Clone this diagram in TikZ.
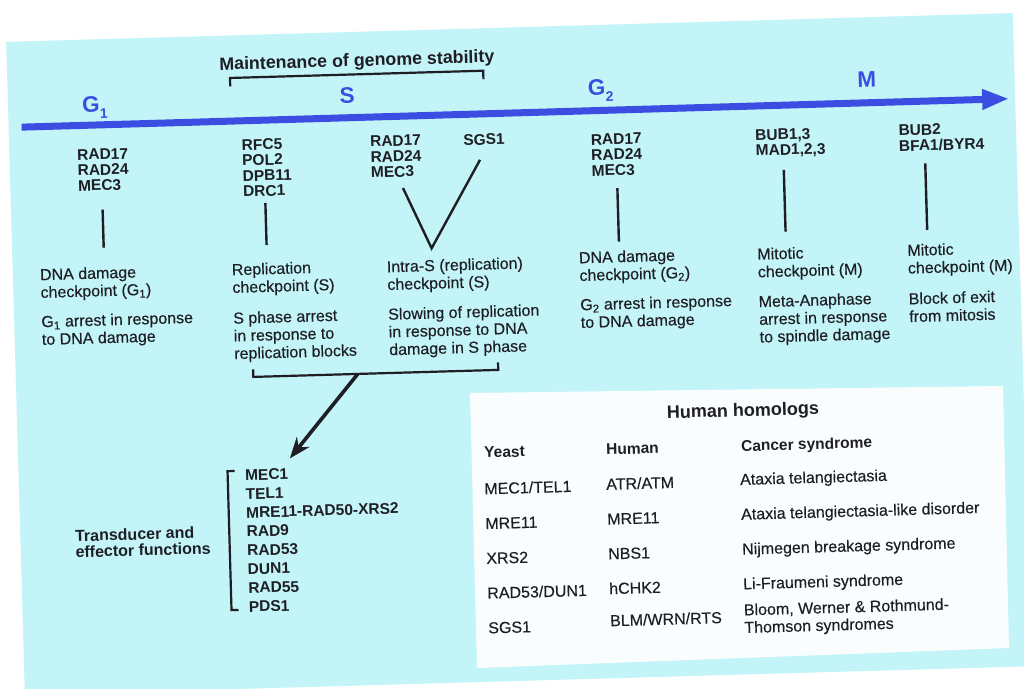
\documentclass[tikz,border=0pt]{standalone}
\usepackage{fontspec}
\setmainfont{Liberation Sans}
\newfontfamily\regfont[FakeBold=0.25]{Liberation Sans}
\usetikzlibrary{arrows.meta}
\definecolor{panel}{RGB}{194,244,248}
\definecolor{tl}{RGB}{60,78,226}
\definecolor{ink}{RGB}{30,30,36}
\definecolor{boxwhite}{RGB}{250,253,253}
\begin{document}
\begin{tikzpicture}[x=1pt,y=-1pt,
  genes/.style={font=\bfseries\fontsize{15.5}{15.5}\selectfont, align=left, anchor=north west, inner sep=0pt, text=ink},
  lowgenes/.style={genes, font=\bfseries\fontsize{15.5}{18.8}\selectfont},
  cp/.style={font=\regfont\fontsize{16}{17.7}\selectfont, align=left, anchor=north west, inner sep=0pt, text=ink},
  phase/.style={font=\bfseries\fontsize{22.5}{22.5}\selectfont, text=tl, inner sep=0pt},
  hdr/.style={font=\bfseries\fontsize{15.5}{15.5}\selectfont, anchor=base west, inner sep=0pt, text=ink},
  cell/.style={font=\regfont\fontsize{16}{17}\selectfont, anchor=base west, inner sep=0pt, text=ink, align=left},
  conn/.style={draw=ink, line width=2.4pt},
  bracket/.style={draw=ink, line width=2.2pt}]
\useasboundingbox (0,0) rectangle (1024,688);
\fill[white] (0,0) rectangle (1024,688);
\clip (0,0) rectangle (1024,688);
\begin{scope}[rotate around={1.64:(512,344)}, transform shape]
\fill[panel] (15,27.5) rectangle (1022,681);
% timeline
\coordinate (tla) at (28,113.2);
\coordinate (tlb) at (1016,113);
\draw[tl, line width=7pt, -{Triangle[length=27pt,width=19pt]}] (tla) -- (tlb);
\node[phase, anchor=base west] (pg1) at (89,100) {G\raisebox{-0.3em}{\fontsize{14}{14}\selectfont 1}};
\node[phase, anchor=base] (ps) at (354.4,98.6) {S};
\node[phase, anchor=base west] (pg2) at (595,98) {G\raisebox{-0.3em}{\fontsize{14}{14}\selectfont 2}};
\node[phase, anchor=base] (pm) at (874.3,97.5) {M};
% maintenance
\node[font=\bfseries\fontsize{17.8}{17.8}\selectfont, anchor=base, inner sep=0pt, text=ink] (maint) at (365,62) {Maintenance of genome stability};
\draw[bracket] (237.7,78.5) -- (237.7,70) -- (491,70) -- (491,78.5);
% genes
\node[genes] (g1genes) at (82.6,137) {RAD17\\RAD24\\MEC3};
\node[genes] (sgenesa) at (247.4,131.7) {RFC5\\POL2\\DPB11\\DRC1};
\node[genes] (sgenesb) at (375.8,132) {RAD17\\RAD24\\MEC3};
\node[genes] (sgs) at (469,133) {SGS1};
\node[genes] (g2genes) at (596.5,136.6) {RAD17\\RAD24\\MEC3};
\node[genes] (mgenesa) at (761,136.4) {BUB1,3\\MAD1,2,3};
\node[genes] (mgenesb) at (904.4,136) {BUB2\\BFA1/BYR4};
% connectors
\coordinate (l1a) at (106.6,198); \coordinate (l1b) at (106.6,236);
\coordinate (l2a) at (269.5,196); \coordinate (l2b) at (269.5,238);
\coordinate (va) at (407.5,185); \coordinate (vb) at (485.3,159); \coordinate (vv) at (434.4,246);
\coordinate (l4a) at (621.8,191.3); \coordinate (l4b) at (621.8,244.7);
\coordinate (l5a) at (788.7,177.8); \coordinate (l5b) at (788.7,239.5);
\coordinate (l6a) at (930.3,175.2); \coordinate (l6b) at (930.3,241.9);
\draw[conn] (l1a) -- (l1b);
\draw[conn] (l2a) -- (l2b);
\draw[conn] (va) -- (vv) -- (vb);
\draw[conn] (l4a) -- (l4b);
\draw[conn] (l5a) -- (l5b);
\draw[conn] (l6a) -- (l6b);
% checkpoint texts
\node[cp] (c1a) at (42,255) {DNA damage\\checkpoint (G\textsubscript{1})};
\node[cp] (c1b) at (42,302) {G\textsubscript{1} arrest in response\\to DNA damage};
\node[cp] (c2a) at (233.9,255.5) {Replication\\checkpoint (S)};
\node[cp] (c2b) at (233.9,304) {S phase arrest\\in response to\\replication blocks};
\node[cp] (c3a) at (388.9,257) {Intra-S (replication)\\checkpoint (S)};
\node[cp] (c3b) at (388.9,304.5) {Slowing of replication\\in response to DNA\\damage in S phase};
\node[cp] (c4a) at (581.2,253.5) {DNA damage\\checkpoint (G\textsubscript{2})};
\node[cp] (c4b) at (581.2,300.5) {G\textsubscript{2} arrest in response\\to DNA damage};
\node[cp] (c5a) at (759.6,255) {Mitotic\\checkpoint (M)};
\node[cp] (c5b) at (759.6,302.5) {Meta-Anaphase\\arrest in response\\to spindle damage};
\node[cp] (c6a) at (909.7,255.5) {Mitotic\\checkpoint (M)};
\node[cp] (c6b) at (909.7,304) {Block of exit\\from mitosis};
% lower bracket and arrow
\draw[bracket] (252.5,362) -- (252.5,369.5) -- (497.5,369.5) -- (497.5,362);
\coordinate (arrs) at (357,369.5);
\coordinate (arre) at (286.7,452);
\draw[draw=ink, line width=3.6pt, -{Stealth[length=21pt,width=16pt]}] (arrs) -- (arre);
\node[lowgenes] (trans) at (241.3,461.8) {MEC1\\TEL1\\MRE11-RAD50-XRS2\\RAD9\\RAD53\\DUN1\\RAD55\\PDS1};
\draw[bracket] (231,463) -- (224,463) -- (224,602) -- (231,602);
\node[genes, font=\bfseries\fontsize{16}{16.2}\selectfont] (tlabel) at (69.6,517.2) {Transducer and\\effector functions};
\end{scope}
% human homologs box (slightly less tilted than the panel in the scan)
\fill[boxwhite] (470,393) -- (1003,386) -- (1009,648) -- (477,668) -- cycle;
\begin{scope}[rotate around={1.64:(512,344)}, transform shape]
\node[font=\bfseries\fontsize{18}{18}\selectfont, anchor=base, inner sep=0pt, text=ink] (hh) at (741,423) {Human homologs};
\node[hdr] (hy) at (481,457) {Yeast};
\node[hdr] (hu) at (603,457.3) {Human};
\node[hdr] (hc) at (738,458) {Cancer syndrome};
\node[cell] (y1) at (480,493.5) {MEC1/TEL1};
\node[cell] (y2) at (480,528.3) {MRE11};
\node[cell] (y3) at (480,563.1) {XRS2};
\node[cell] (y4) at (480,597.9) {RAD53/DUN1};
\node[cell] (y5) at (480,632.7) {SGS1};
\node[cell] (u1) at (602,492.5) {ATR/ATM};
\node[cell] (u2) at (602,527.3) {MRE11};
\node[cell] (u3) at (602,562.1) {NBS1};
\node[cell] (u4) at (602,596.9) {hCHK2};
\node[cell] (u5) at (602,629) {BLM/WRN/RTS};
\node[cell] (s1) at (736,491.5) {Ataxia telangiectasia};
\node[cell] (s2) at (736,526.3) {Ataxia telangiectasia-like disorder};
\node[cell] (s3) at (736,561.1) {Nijmegen breakage syndrome};
\node[cell] (s4) at (736,595.9) {Li-Fraumeni syndrome};
\node[cell] (s5) at (736,622) {Bloom, Werner \& Rothmund-};
\node[cell] (s6) at (736,639.6) {Thomson syndromes};
\end{scope}
\end{tikzpicture}
\end{document}
